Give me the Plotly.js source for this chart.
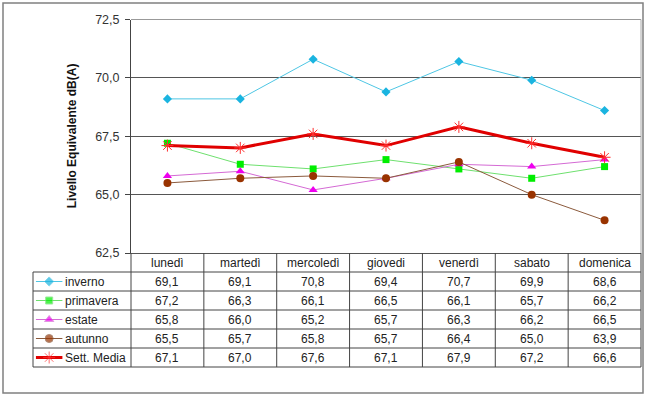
<!DOCTYPE html>
<html><head><meta charset="utf-8">
<script src="https://cdn.plot.ly/plotly-3.0.1.min.js"></script>
<style>html,body{margin:0;padding:0;background:#fff;}#chart{width:650px;height:399px;}</style>
</head><body><div id="chart"></div>
<script>
const categories = ['lunedì','martedì','mercoledì','giovedi','venerdì','sabato','domenica'];
const seriesNames = ['inverno','primavera','estate','autunno','Sett. Media'];
const inverno   = [69.1,69.1,70.8,69.4,70.7,69.9,68.6];
const primavera = [67.2,66.3,66.1,66.5,66.1,65.7,66.2];
const estate    = [65.8,66.0,65.2,65.7,66.3,66.2,66.5];
const autunno   = [65.5,65.7,65.8,65.7,66.4,65.0,63.9];
const media     = [67.1,67.0,67.6,67.1,67.9,67.2,66.6];
const yTicks = [62.5,65.0,67.5,70.0,72.5];
const yTickText = ['62,5','65,0','67,5','70,0','72,5'];
const yTitle = 'Livello Equivalente dB(A)';

const seriesValues = [inverno,primavera,estate,autunno,media];
const styles = [
  {line:{color:'#4ec6e4',width:1}, marker:{symbol:'diamond',size:7,color:'#1ab4e0'}},
  {line:{color:'#6ee06e',width:1}, marker:{symbol:'square',size:7,color:'#00ee00'}},
  {line:{color:'#d46ad4',width:1}, marker:{symbol:'triangle-up',size:8,color:'#ee00ee'}},
  {line:{color:'#8b5a3c',width:1}, marker:{symbol:'circle',size:8,color:'#993300'}},
  {line:{color:'#e00000',width:3}, marker:{symbol:'asterisk-open',size:10,color:'#ff3030',line:{color:'#ff3030',width:1}}}
];

const W=650,H=399;
const px = v=>v/W, py = v=>1-v/H;
const L=131, R=641, T=19.5, B=253, colW=(R-L)/categories.length;
const rowH=19, hdrB=272, keyL=33;

const traces=[];
seriesValues.forEach((vals,i)=>{
  traces.push({type:'scatter',mode:'lines+markers',x:categories.map((c,j)=>j),y:vals,
    name:seriesNames[i],line:styles[i].line,marker:styles[i].marker,xaxis:'x',yaxis:'y',
    showlegend:false,hoverinfo:'skip',cliponaxis:false});
});
// legend keys inside the data table
seriesValues.forEach((vals,i)=>{
  const m = Object.assign({},styles[i].marker,{size:[0,styles[i].marker.size,0]});
  traces.push({type:'scatter',mode:'lines+markers',x:[0.03,0.165,0.30],y:[i+0.5,i+0.5,i+0.5],
    line:styles[i].line,marker:m,xaxis:'x2',yaxis:'y2',showlegend:false,hoverinfo:'skip',cliponaxis:false});
});

const font={family:'"Liberation Sans", Arial, sans-serif',size:12,color:'#222'};
const shapes=[], annotations=[];
const lc='#444';
// outer border
shapes.push({type:'rect',xref:'paper',yref:'paper',x0:px(3),x1:px(643),y0:py(393),y1:py(3),line:{color:'#808080',width:1.5}});
// plot area top & right border
shapes.push({type:'line',xref:'paper',yref:'paper',x0:px(L),x1:px(R),y0:py(T),y1:py(T),line:{color:'#999',width:1}});
shapes.push({type:'line',xref:'paper',yref:'paper',x0:px(R),x1:px(R),y0:py(T),y1:py(B),line:{color:'#aaa',width:1}});
// table vertical lines
for(let k=0;k<=categories.length;k++){
  const x=L+k*colW;
  shapes.push({type:'line',xref:'paper',yref:'paper',x0:px(x),x1:px(x),y0:py(B),y1:py(hdrB+rowH*seriesNames.length),line:{color:lc,width:1}});
}
shapes.push({type:'line',xref:'paper',yref:'paper',x0:px(keyL),x1:px(keyL),y0:py(hdrB),y1:py(hdrB+rowH*seriesNames.length),line:{color:lc,width:1}});
// table horizontal lines
for(let r=0;r<=seriesNames.length;r++){
  const y=hdrB+r*rowH;
  shapes.push({type:'line',xref:'paper',yref:'paper',x0:px(keyL),x1:px(R),y0:py(y),y1:py(y),line:{color:lc,width:1}});
}
// header
categories.forEach((c,j)=>{
  annotations.push({xref:'x',yref:'paper',x:j,y:py(B+(hdrB-B)/2),text:c,showarrow:false,xanchor:'center',yanchor:'middle',font:font});
});
// values
seriesValues.forEach((vals,i)=>{
  vals.forEach((v,j)=>{
    annotations.push({xref:'x',yref:'paper',x:j,y:py(hdrB+rowH*i+rowH/2),text:v.toFixed(1).replace('.',','),showarrow:false,xanchor:'center',yanchor:'middle',font:font});
  });
  annotations.push({xref:'x2',yref:'y2',x:0.31,y:i+0.5,text:seriesNames[i],showarrow:false,xanchor:'left',yanchor:'middle',font:font});
});
// y title
annotations.push({xref:'paper',yref:'paper',x:px(72),y:py((T+B)/2),text:'<b>'+yTitle+'</b>',textangle:-90,showarrow:false,xanchor:'center',yanchor:'middle',font:Object.assign({},font,{size:12,color:'#111'})});

const layout={
  width:W,height:H,margin:{l:0,r:0,t:0,b:0},paper_bgcolor:'#fff',plot_bgcolor:'#fff',
  font:font,showlegend:false,
  xaxis:{domain:[px(L),px(R)],range:[-0.5,categories.length-0.5],showgrid:false,zeroline:false,
    showline:true,linecolor:'#555',linewidth:1,showticklabels:false,ticks:'',fixedrange:true},
  yaxis:{domain:[py(B),py(T)],range:[62.5,72.5],tickvals:yTicks,ticktext:yTickText,
    showgrid:true,gridcolor:'#555',gridwidth:1,zeroline:false,showline:true,linecolor:'#444',linewidth:1,
    ticks:'outside',ticklen:5,tickcolor:'#444',ticklabelstandoff:3,tickfont:Object.assign({},font,{size:12.5,color:'#333'}),fixedrange:true},
  xaxis2:{domain:[px(keyL),px(L)],range:[0,1],visible:false,anchor:'y2',fixedrange:true},
  yaxis2:{domain:[py(hdrB+rowH*seriesNames.length),py(hdrB)],range:[seriesNames.length,0],visible:false,anchor:'x2',fixedrange:true},
  shapes:shapes,annotations:annotations
};
Plotly.newPlot('chart',traces,layout,{staticPlot:true,displayModeBar:false});
</script></body></html>
